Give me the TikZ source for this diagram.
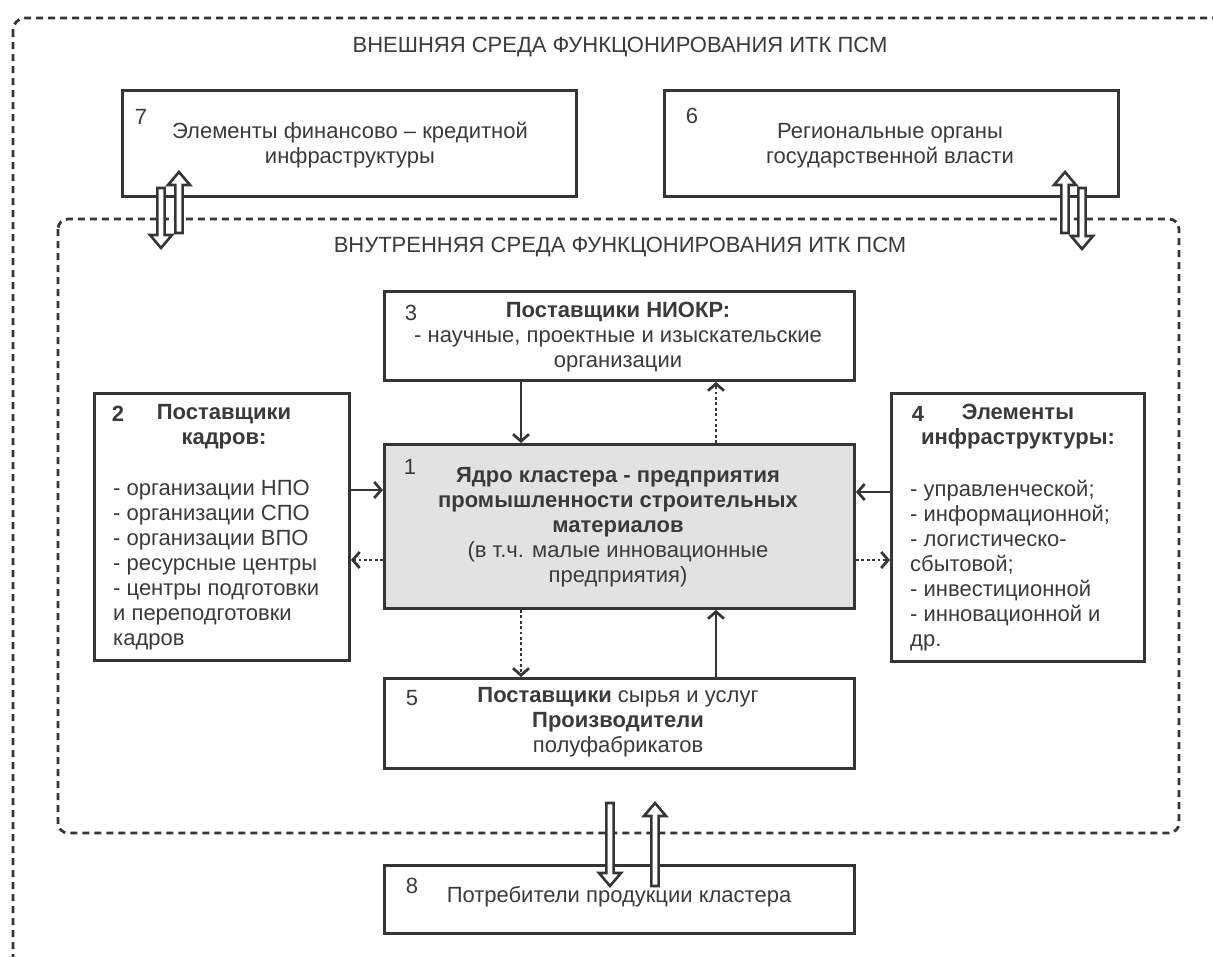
\documentclass[tikz,border=0pt]{standalone}
\usepackage{fontspec}
\setmainfont{Liberation Sans}
\usetikzlibrary{arrows.meta,calc}
\definecolor{ln}{HTML}{353535}
\definecolor{tx}{HTML}{3A3A3A}
\definecolor{core}{HTML}{E2E2E2}
\newcommand\hollowarrow[3]{\draw[harrow] let \p1=(#1), \p2=(#2) in
  ({\x1-3.6pt},\y1) -- ({\x1+3.6pt},\y1) -- ({\x1+3.6pt},{\y2#3}) -- ({\x1+11pt},{\y2#3})
  -- (\x1,\y2) -- ({\x1-11pt},{\y2#3}) -- ({\x1-3.6pt},{\y2#3}) -- cycle;}
\begin{document}
\begin{tikzpicture}[x=1pt,y=-1pt,
  box/.style={draw=ln, line width=2.9pt, inner sep=0pt, anchor=north west},
  frame/.style={draw=ln, line width=2.8pt, dash pattern=on 7pt off 5pt},
  txt/.style={text=tx, font=\fontsize{22}{25}\selectfont, inner sep=0pt, align=center},
  num/.style={text=tx, font=\fontsize{22}{25}\selectfont, inner sep=0pt},
  sarr/.style={draw=ln, line width=2.7pt, -{Straight Barb[length=7pt,width=16pt,line width=2.7pt]}},
  darr/.style={draw=ln, line width=2.8pt, dash pattern=on 2.8pt off 2.6pt, -{Straight Barb[length=7pt,width=16pt,line width=2.7pt]}},
  harrow/.style={draw=ln, line width=2.6pt, fill=white, line join=miter}
]
\useasboundingbox (0,0) rectangle (1213,956);
\clip (0,0) rectangle (1213,956);
\fill[white] (0,0) rectangle (1213,956);

% frames
\draw[frame, rounded corners=12pt] (13,18) rectangle (1240,968);
\draw[frame, rounded corners=10pt] (58,219) rectangle (1179,833);

\node[txt] (title1) at (620,47) {ВНЕШНЯЯ СРЕДА ФУНКЦОНИРОВАНИЯ ИТК ПСМ};
\node[txt] (title2) at (620,247) {ВНУТРЕННЯЯ СРЕДА ФУНКЦОНИРОВАНИЯ ИТК ПСМ};

% boxes
\node[box, minimum width=454pt, minimum height=106pt] (b7) at (121,89) {};
\node[box, minimum width=454pt, minimum height=106pt] (b6) at (663,89) {};
\node[box, minimum width=470pt, minimum height=89pt] (b3) at (383,290) {};
\node[box, fill=core, minimum width=470pt, minimum height=164pt] (b1) at (383,443) {};
\node[box, minimum width=255pt, minimum height=267pt] (b2) at (93,392) {};
\node[box, minimum width=253pt, minimum height=268pt] (b4) at (890,392) {};
\node[box, minimum width=470pt, minimum height=90pt] (b5) at (383,677) {};
\node[box, minimum width=470pt, minimum height=68pt] (b8) at (383,864) {};

% texts
\node[num] (n7) at (141,117) {7};
\node[txt] (t7) at (350,145) {Элементы финансово – кредитной\\инфраструктуры};
\node[num] (n6) at (692,116) {6};
\node[txt] (t6) at (890,146) {Региональные органы\\государственной власти};

\node[num] (n3) at (411,313) {3};
\node[txt] (t3) at (618,337.5) {\textbf{Поставщики НИОКР:}\\- научные, проектные и изыскательские\\организации};

\node[num, font=\fontsize{22}{25}\selectfont\bfseries] (n2) at (118,414) {2};
\node[txt, font=\fontsize{22}{25}\selectfont\bfseries] (t2h) at (224,427) {Поставщики\\кадров:};
\node[txt, align=left, anchor=west] (t2) at (113,565) {- организации НПО\\- организации СПО\\- организации ВПО\\- ресурсные центры\\- центры подготовки\\и переподготовки\\кадров};

\node[num, font=\fontsize{22}{25}\selectfont\bfseries] (n4) at (918,414) {4};
\node[txt, font=\fontsize{22}{25}\selectfont\bfseries] (t4h) at (1018,427) {Элементы\\инфраструктуры:};
\node[txt, align=left, anchor=west] (t4) at (910,566) {- управленческой;\\- информационной;\\- логистическо-\\сбытовой;\\- инвестиционной\\- инновационной и\\др.};

\node[num] (n1) at (410,467) {1};
\node[txt] (t1) at (618,527) {\textbf{Ядро кластера - предприятия}\\\textbf{промышленности строительных}\\\textbf{материалов}\\(в т.ч. малые инновационные\\предприятия)};

\node[num] (n5) at (412,698) {5};
\node[txt] (t5) at (618,722.5) {\textbf{Поставщики} сырья и услуг\\\textbf{Производители}\\полуфабрикатов};

\node[num] (n8) at (412,886) {8};
\node[txt] (t8) at (619,897) {Потребители продукции кластера};

% connectors
\coordinate (xL) at (521,0);
\coordinate (xR) at (716,0);
\coordinate (yS) at (0,490);
\coordinate (yS2) at (0,492);
\coordinate (yD) at (0,560);
\draw[sarr] (b3.south -| xL) -- (b1.north -| xL);
\draw[darr] (b1.north -| xR) -- (b3.south -| xR);
\draw[sarr] (b2.east |- yS) -- (b1.west |- yS);
\draw[darr] (b1.west |- yD) -- (b2.east |- yD);
\draw[sarr] (b4.west |- yS2) -- (b1.east |- yS2);
\draw[darr] (b1.east |- yD) -- (b4.west |- yD);
\draw[darr] (b1.south -| xL) -- (b5.north -| xL);
\draw[sarr] (b5.north -| xR) -- (b1.south -| xR);

% hollow double arrows
\coordinate (h7a) at (161,188); \coordinate (h7b) at (161,248);
\coordinate (h7c) at (179,233); \coordinate (h7d) at (179,172);
\coordinate (h6a) at (1065,233); \coordinate (h6b) at (1065,172);
\coordinate (h6c) at (1082,188); \coordinate (h6d) at (1082,249);
\coordinate (h8a) at (610,803); \coordinate (h8b) at (610,886);
\coordinate (h8c) at (655,886); \coordinate (h8d) at (655,803);
\hollowarrow{h7a}{h7b}{+13pt}
\hollowarrow{h7c}{h7d}{-13pt}
\hollowarrow{h6a}{h6b}{-13pt}
\hollowarrow{h6c}{h6d}{+13pt}
\hollowarrow{h8a}{h8b}{+13pt}
\hollowarrow{h8c}{h8d}{-13pt}
\end{tikzpicture}
\end{document}
